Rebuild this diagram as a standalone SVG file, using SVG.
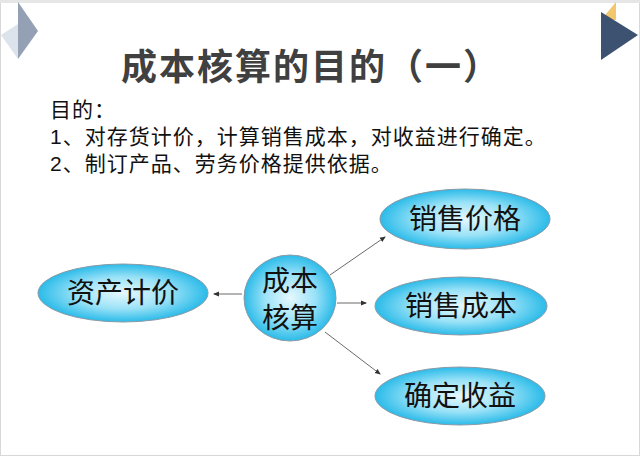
<svg xmlns="http://www.w3.org/2000/svg" width="640" height="456" viewBox="0 0 640 456">
<defs>
<radialGradient id="g" cx="50%" cy="50%" r="50%">
<stop offset="0" stop-color="#e6f8fd"/><stop offset="0.55" stop-color="#9ae2f7"/><stop offset="1" stop-color="#2bbbe9"/>
</radialGradient>
<marker id="a" markerWidth="6" markerHeight="6" refX="5" refY="3" orient="auto" markerUnits="userSpaceOnUse"><path d="M0,0.5 L6,3 L0,5.5z" fill="#333"/></marker>
</defs>
<style>
.n{fill:url(#g);stroke:#8a9aa6;stroke-width:1}
.t{font-family:"Liberation Sans","Noto Sans CJK SC",sans-serif;fill:#111}
.c line{stroke:#444;stroke-width:0.8;marker-end:url(#a)}
</style>
<rect width="640" height="456" fill="#fff" stroke="#d8d8d8" stroke-width="2"/>
<rect width="640" height="3" fill="#e6e6e6"/>
<polygon points="1,35 18,24 18,59" fill="#dde3ec"/>
<polygon points="18,2 38,31 18,59" fill="#94a0b4"/>
<polygon points="601,20 616,2 616,20" fill="#f2c76e"/>
<polygon points="601,12 638,35 601,60" fill="#3d5270"/>
<text x="311" y="80" text-anchor="middle" class="t" font-size="36" letter-spacing="2" font-weight="bold" style="fill:#404040">成本核算的目的（一）</text>
<g font-size="21" letter-spacing="1">
<text x="50" y="117" class="t">目的：</text>
<text x="50" y="144" class="t">1、对存货计价，计算销售成本，对收益进行确定。</text>
<text x="50" y="171" class="t">2、制订产品、劳务价格提供依据。</text>
</g>
<g class="c">
<line x1="242" y1="294" x2="214" y2="294"/>
<line x1="337" y1="303" x2="366" y2="303"/>
<line x1="330" y1="275" x2="385" y2="237"/>
<line x1="325" y1="332" x2="380" y2="374"/>
</g>
<g id="n1"><ellipse class="n" cx="123" cy="293" rx="85" ry="29"/><text x="123" y="303" text-anchor="middle" class="t" font-size="28">资产计价</text></g>
<g id="n2"><ellipse class="n" cx="290" cy="298" rx="46" ry="43"/><text x="290" y="291" text-anchor="middle" class="t" font-size="28">成本</text><text x="290" y="328" text-anchor="middle" class="t" font-size="28">核算</text></g>
<g id="n3"><ellipse class="n" cx="465" cy="219" rx="85" ry="30"/><text x="465" y="229" text-anchor="middle" class="t" font-size="28">销售价格</text></g>
<g id="n4"><ellipse class="n" cx="461" cy="306" rx="86" ry="29"/><text x="461" y="316" text-anchor="middle" class="t" font-size="28">销售成本</text></g>
<g id="n5"><ellipse class="n" cx="460" cy="396" rx="85" ry="29"/><text x="460" y="406" text-anchor="middle" class="t" font-size="28">确定收益</text></g>
</svg>
